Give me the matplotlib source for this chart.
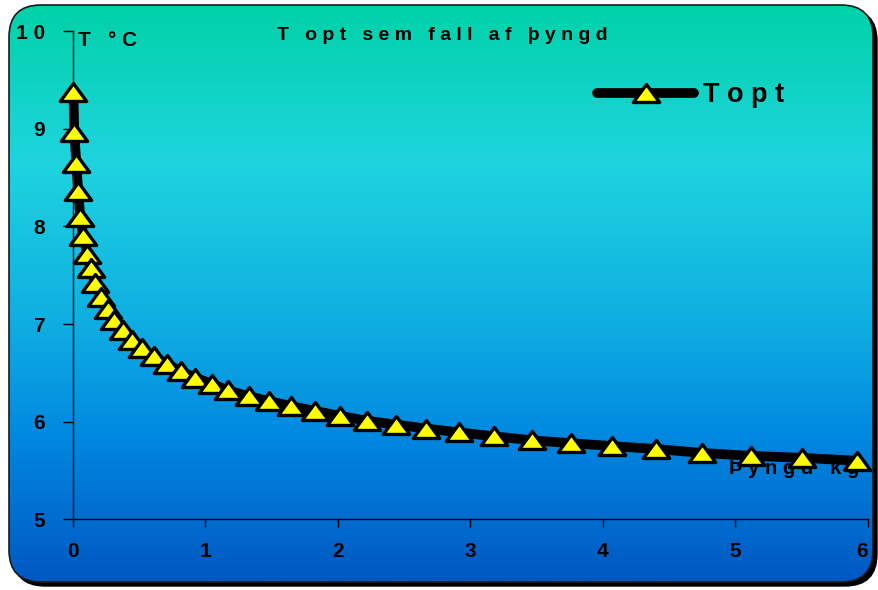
import numpy as np
import matplotlib
matplotlib.use('Agg')
import matplotlib.pyplot as plt
from matplotlib.patches import FancyBboxPatch
from matplotlib.colors import LinearSegmentedColormap
from matplotlib.path import Path

# body mass (kg) and optimum temperature (°C)
mass_kg = [0.005, 0.012, 0.027, 0.042, 0.057, 0.080, 0.110, 0.138, 0.168, 0.211,
           0.264, 0.312, 0.377, 0.445, 0.521, 0.614, 0.709, 0.814, 0.923, 1.049,
           1.172, 1.331, 1.484, 1.648, 1.829, 2.017, 2.219, 2.440, 2.667, 2.918,
           3.180, 3.464, 3.758, 4.072, 4.402, 4.747, 5.117, 5.502, 5.920]
t_opt = [9.38, 8.97, 8.65, 8.36, 8.10, 7.90, 7.72, 7.57, 7.42, 7.28,
         7.15, 7.04, 6.94, 6.84, 6.75, 6.67, 6.59, 6.52, 6.45, 6.39,
         6.32, 6.26, 6.21, 6.16, 6.11, 6.06, 6.01, 5.97, 5.93, 5.89,
         5.85, 5.81, 5.78, 5.75, 5.72, 5.68, 5.65, 5.63, 5.60]

x_ticks = [0, 1, 2, 3, 4, 5, 6]
y_ticks = [5, 6, 7, 8, 9, 10]

title = "T opt sem fall af þyngd"
y_label = "T °C"
x_label = "Þyngd kg"
series_name = "Topt"


def spaced(s):
    # wide letter tracking: one space between letters, three between words
    return "   ".join(" ".join(w) for w in s.split(" "))


plt.rcParams['font.family'] = ['Liberation Sans', 'DejaVu Sans']
plt.rcParams['font.weight'] = 'bold'

W, H = 879, 590
fig = plt.figure(figsize=(W / 100, H / 100), dpi=100)

# rounded panel with drop shadow and vertical gradient
bg = fig.add_axes([0, 0, 1, 1])
bg.set_xlim(0, W)
bg.set_ylim(H, 0)
bg.axis('off')

shadow = FancyBboxPatch((13, 9), 864, 577, boxstyle="round,pad=0,rounding_size=32",
                        fc='black', ec='black', lw=1)
bg.add_patch(shadow)
panel = FancyBboxPatch((9, 5), 864, 577, boxstyle="round,pad=0,rounding_size=32",
                       fc='none', ec='#1a1a1a', lw=1.2, zorder=3)
bg.add_patch(panel)

grad_cmap = LinearSegmentedColormap.from_list('panel', [
    (0.00, '#00D2A8'),
    (0.27, '#1ED4DE'),
    (0.55, '#0FAEE2'),
    (0.75, '#0088E0'),
    (1.00, '#0058C2'),
])
grad = np.linspace(0, 1, 256).reshape(-1, 1)
img = bg.imshow(grad, extent=[9, 873, 582, 5], aspect='auto', cmap=grad_cmap,
                origin='upper', zorder=2)
img.set_clip_path(panel)

# plot area
ax = fig.add_axes([72.7 / W, 1 - 519.3 / H, 795 / W, 488 / H])
ax.patch.set_alpha(0)
ax.set_xlim(0, 6)
ax.set_ylim(5, 10)
for side in ['top', 'right']:
    ax.spines[side].set_visible(False)
for side in ['left', 'bottom']:
    ax.spines[side].set_linewidth(1)
ax.set_xticks(x_ticks)
ax.set_yticks(y_ticks)
ax.set_xticklabels([spaced(str(v)) for v in x_ticks])
ax.set_yticklabels([spaced(str(v)) for v in y_ticks])
ax.tick_params(axis='x', direction='out', length=6, width=1, pad=10, labelsize=15)
ax.tick_params(axis='y', direction='out', length=7, width=1, pad=13, labelsize=15)
ax.get_xticklabels()[-1].set_horizontalalignment('right')

# triangle marker, wider than tall
tri = Path([(-1.0, -0.68), (1.0, -0.68), (0.0, 0.68), (-1.0, -0.68)],
           [Path.MOVETO, Path.LINETO, Path.LINETO, Path.CLOSEPOLY])

ax.plot(mass_kg, t_opt, color='black', lw=7, solid_capstyle='round',
        solid_joinstyle='round', marker=tri, markersize=19, markerfacecolor='#FFFF00',
        markeredgecolor='black', markeredgewidth=2.4, label=spaced(series_name),
        zorder=5, clip_on=False)

leg = ax.legend(loc='center left', bbox_to_anchor=(597 / W, 1 - 95 / H),
                bbox_transform=fig.transFigure, frameon=False, numpoints=1,
                borderpad=0, borderaxespad=0, handlelength=3.6, handletextpad=0.3,
                prop={'size': 19.5, 'weight': 'bold'})

ax.text(0.007, 1.0, spaced(y_label), transform=ax.transAxes, ha='left', va='top',
        fontsize=15, fontweight='bold', zorder=1)
ax.text(5.94, 5.465, spaced(x_label), ha='right', va='baseline',
        fontsize=14.5, fontweight='bold', zorder=1)
fig.text(442 / W, 1 - 35 / H, spaced(title), ha='center', va='center',
         fontsize=14, fontweight='bold')

fig.savefig('out.png', dpi=100)
